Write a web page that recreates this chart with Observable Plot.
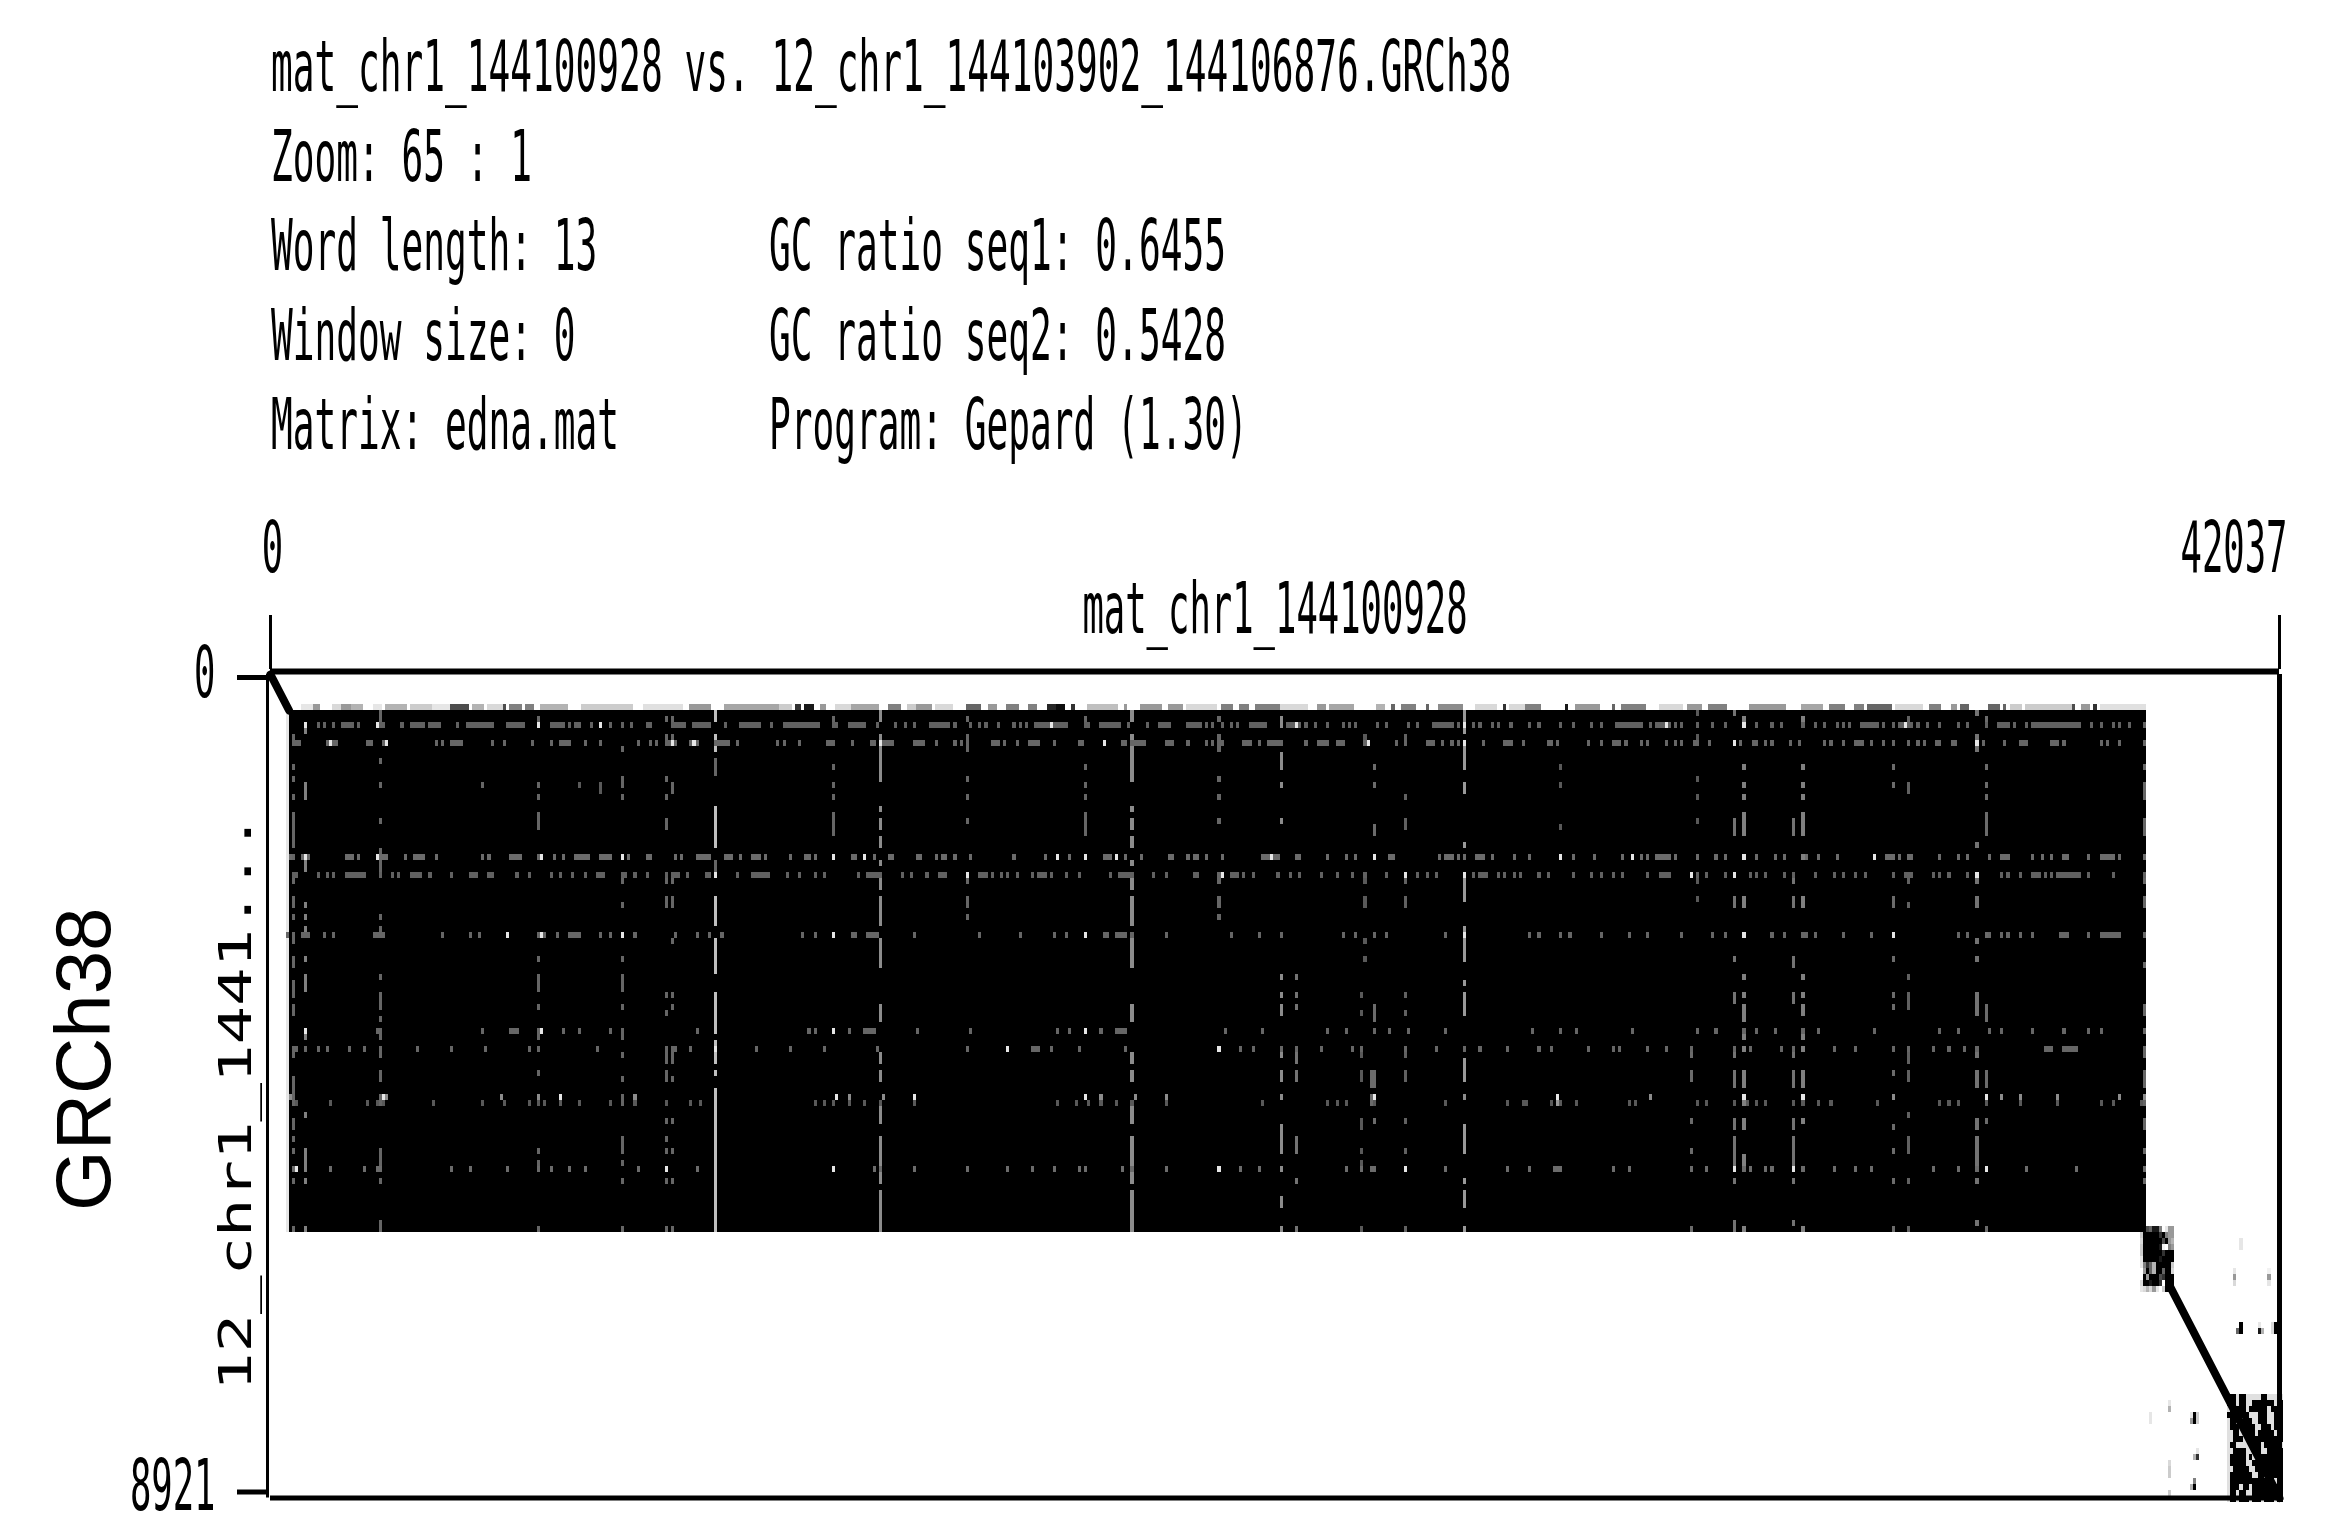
<!DOCTYPE html>
<html>
<head>
<meta charset="utf-8">
<title>Gepard dot plot</title>
<script src="https://cdn.jsdelivr.net/npm/d3@7"></script>
<script src="https://cdn.jsdelivr.net/npm/@observablehq/plot@0.6"></script>
<style>
html,body{margin:0;padding:0;background:#fff;width:2332px;height:1540px;overflow:hidden}
.h{position:absolute;font-family:"DejaVu Sans Mono",monospace;font-size:71px;line-height:1.164;color:#000;white-space:pre;transform:scaleX(.509);transform-origin:0 0}
#chart{position:absolute;left:0;top:500px}
#chart svg{display:block}
</style>
</head>
<body>
<div id="header"></div>
<div id="chart"></div>
<script>
// ---- texts ----
const headerLeft = ["mat_chr1_144100928 vs. 12_chr1_144103902_144106876.GRCh38","Zoom: 65 : 1","Word length: 13","Window size: 0","Matrix: edna.mat"];
const headerRight = ["","","GC ratio seq1: 0.6455","GC ratio seq2: 0.5428","Program: Gepard (1.30)"];
const seq1Name = "mat_chr1_144100928";
const seq2Name = "12_chr1_1441...";
const refName = "GRCh38";
// ---- sequence lengths and matrix bin (bp per dot, the 65:1 zoom) ----
const seq1Length = 42037, seq2Length = 8921, binSize = 65;
const xTicks = [0, seq1Length], yTicks = [0, seq2Length];
// ---- big repeat block, in bins [col1,col2,row1,row2] ----
const block = [6, 604, 6, 93];
// ---- the two identity diagonals, in bp ----
const diagonalA = [[0,0],[390,390]];
const diagonalB = [[39748,6630],[42037,8921]];
// ---- grey top row above the block [col1,col2,ink] ----
const topRow = [[10,13,.1],[14,15,.4],[20,22,.15],[23,25,.4],[26,29,.3],[33,35,.1],[37,43,.3],[45,51,.2],[52,57,.1],[58,63,.7],[65,68,.3],[70,74,.15],[75,75,.7],[77,80,.5],[82,84,.5],[87,95,.3],[100,116,.2],[120,132,.12],[135,141,.4],[146,163,.35],
[164,167,.2],[169,170,.8],[172,174,.9],[177,178,.4],[182,186,.15],[187,195,.35],[199,202,.5],[205,207,.2],[208,212,.4],[214,219,.15],[224,228,.6],[231,233,.4],[237,240,.5],[244,246,.5],[250,252,.85],[253,255,.95],[258,258,.8],[263,272,.25],[275,275,.4],[280,286,.4],[289,293,.4],[295,304,.15],[306,309,.5],[312,314,.5],[317,324,.5],
[325,333,.15],[337,339,.4],[341,348,.35],[356,358,.3],[361,361,.6],[364,368,.5],[372,372,.6],[376,383,.45],[388,394,.15],[397,397,.8],[399,403,.15],[404,408,.5],[417,417,.9],[420,427,.4],[432,432,.6],[435,442,.5],[447,454,.15],[456,460,.4],[463,468,.5],[476,486,.4],
[487,487,.4],[493,499,.35],[502,506,.5],[510,512,.5],[514,521,.6],[523,531,.15],[534,537,.5],[541,542,.4],[544,546,.6],[553,556,.6],[558,558,.6],[560,563,.2],[565,579,.2],[580,580,.7],[583,585,.4],[587,587,.8],[589,603,.12]];
// ---- light specks inside the block: row -> columns (a number or a [from,to] run) ----
const row8 = [11,15,17,20,[23,26],28,[34,36],42,[45,49],[51,54],60,[63,71],[76,81],86,[90,94],96,98,99,103,106,109,113,116,121,122,[129,133],[136,141],146,[151,157],161,[165,176],[181,182],[186,191],195,201,204,207,[212,218],220,225,228,230,234,239,241,243,[246,256],[262,263],[267,273],276,282,[286,289],[295,299],301,303,306,309,311,[315,320],[327,331],333,336,340,345,347,349,356,359,366,369,[374,380],382,384,387,389,393,395,399,405,408,415,419,425,428,[433,440],441,444,[446,450],452,454,459,464,468,474,478,483,486,493,497,500,504,506,508,[512,517],519,522,[524,528],530,533,537,543,546,552,[556,559],561,565,[567,572],[573,582],586,589,593,595,598,603];
const row11 = [[8,9],[18,21],31,32,[36,37],53,55,[58,61],71,75,84,90,[93,96],101,106,118,122,124,[127,130],[135,137],[143,147],150,163,165,170,[179,181],187,[193,194],[196,200],[207,210],214,220,222,224,[232,234],236,240,[244,247],252,[260,261],268,[274,275],[277,281],[288,290],295,301,303,306,[313,315],318,[321,325],333,[337,340],[343,345],[352,353],362,365,[372,374],377,380,382,384,390,[397,399],403,[411,412],414,424,428,[432,434],436,441,443,449,452,454,[458,459],463,471,473,[477,478],481,483,489,492,500,502,506,[510,512],515,519,522,527,530,532,[536,537],[541,542],549,551,558,[563,565],[573,575],577,589,591,595,603];
const row30 = [6,[10,12],[24,26],28,[34,37],43,[46,49],53,68,70,[77,80],87,91,94,[98,102],[106,109],113,115,121,122,130,132,[137,141],[146,148],151,[155,157],159,167,[172,173],175,181,[187,188],191,194,[199,200],[208,209],214,[216,217],220,225,239,249,253,257,262,[268,270],272,275,280,[289,290],295,[297,298],301,306,[319,324],[330,331],340,346,349,355,[360,361],376,[378,380],382,384,[388,390],393,400,405,415,419,426,435,438,441,443,[446,450],452,459,465,468,474,478,484,487,494,498,504,516,[520,522],524,[527,528],537,543,546,553,[557,559],567,570,573,[577,578],585,[589,593],595,603];
const row33 = [[7,8],15,18,20,[24,30],35,39,41,[45,48],51,58,[64,66],[70,71],79,83,90,93,97,101,[105,107],[113,114],117,121,127,[129,131],134,[140,141],143,150,[155,160],166,170,175,178,189,[192,196],203,206,211,[215,217],224,[228,230],232,235,237,240,245,[247,249],251,256,260,270,[273,277],284,288,[297,298],306,[309,311],313,316,324,328,331,338,343,348,352,359,365,369,372,375,384,387,[389,391],395,397,400,402,408,411,419,425,428,432,435,443,[447,450],457,459,462,468,471,476,478,481,487,490,497,503,506,510,513,522,[526,528],535,537,540,546,549,557,559,563,[567,569],571,573,[575,582],585,593,603];
const row43 = [5,7,[10,12],17,20,[33,36],55,64,67,76,[87,88],92,[96,99],106,109,113,117,130,137,141,145,171,175,181,187,188,[192,194],195,207,228,241,252,256,262,268,269,[272,275],277,288,309,318,325,345,349,355,359,378,384,405,408,415,418,428,437,443,454,464,468,474,483,487,[493,494],497,506,515,522,543,546,553,557,559,563,567,[576,578],585,[589,595],603];
const row59 = [11,[34,35],68,[77,79],87,94,99,109,113,137,173,175,181,186,[191,194],208,225,253,257,262,267,[272,275],307,319,340,346,355,360,366,378,406,415,420,438,459,465,474,478,484,493,498,516,537,543,553,557,567,577,585,589,603];
const row62 = [8,11,15,18,25,30,35,47,58,69,83,105,127,130,135,143,156,167,178,195,224,237,[245,247],251,260,275,305,312,316,325,330,338,348,351,365,375,384,389,398,408,412,424,432,434,443,449,457,471,476,486,490,503,510,522,527,535,540,545,549,[571,573],[577,581],603];
const row70 = [6,[36,37],74,86,93,117,182,186,197,207,262,267,278,288,325,355,384,414,444,474,493,522,552,557,563,575,595,603];
const row71 = [8,19,31,34,36,52,68,75,83,86,88,93,99,109,117,127,135,138,175,178,181,186,191,196,207,253,259,263,267,272,277,288,319,340,343,346,355,378,398,403,404,412,415,420,437,439,459,462,471,475,478,481,490,493,498,502,517,537,540,543,552,563,575,589,593,602];
const row82 = [[7,8],19,30,34,35,58,64,76,86,90,96,101,118,127,137,181,194,196,207,224,237,245,252,260,262,274,277,288,305,312,318,346,351,354,365,378,398,405,[413,415],432,437,457,462,471,474,476,481,483,490,493,503,510,515,535,543,549,552,565,581,603];
const rowList = [[8,row8,.38],[11,row11,.4],[30,row30,.42],[33,row33,.38],[43,row43,.4],[59,row59,.4],[62,row62,.4],[70,row70,.55],[71,row71,.35],[82,row82,.42]];
// ---- brighter specks [row,col] ----
const bright = [[8,11],[8,34],[8,86],[8,106],[8,251],[8,330],[8,384],[8,449],[8,474],[8,526],[11,37],[11,19],[11,129],[11,136],[11,196],[11,268],[11,353],[11,384],[11,471],[11,549],[30,11],[30,34],[30,87],[30,113],[30,181],[30,191],[30,253],[30,262],[30,272],[30,355],[30,415],[30,438],[30,322],[30,474],[30,516],[33,143],[33,224],[33,306],[33,365],[33,384],[33,457],[33,471],[33,549],[43,76],[43,87],[43,113],[43,181],[43,262],[43,384],[43,474],[43,522],[59,11],[59,87],[59,181],[59,262],[62,143],[62,237],[62,305],[70,36],[70,93],[70,182],[70,207],[70,262],[70,355],[70,414],[70,474],[70,493],[70,552],[82,8],[82,127],[82,181],[82,305],[82,365],[82,471],[82,490],[82,552]];
// ---- columns of gaps through the block: [col, lightness, [row | [from,to], ...]] ----
const colGaps = [
[143,.75,[[6,7],[10,12],[22,28],[33,33],[37,41],[44,49],[53,59],[61,64],[66,66],[69,92]]],
[143,.4,[[14,16],[31,32]]],
[196,.55,[[6,7],[10,16],17,22,[24,25],[27,28],31,[33,35],[37,41],[44,48],[55,57],[63,64],66,67,71,[72,74],[77,79],[79,84],[86,92]]],
[277,.55,[[6,7],[10,16],17,22,[24,25],[27,28],31,[33,35],[37,41],[44,48],[55,57],[63,64],66,67,71,[72,74],[77,79],[79,84],[86,92]]],
[224,.4,[7,[10,12],17,20,24,[33,34],[37,38],40]],
[305,.4,[7,[10,12],17,20,24,[33,34],[37,38],40]],
[181,.4,[7,15,18,20,[23,26],30,43]],
[262,.4,[7,15,18,20,[23,26],30,43]],
[384,.6,[[6,9],[11,14],15,18,19,28,[33,37],43,[42,47],51,[53,56],[64,67],70,[75,79],84,[86,88],92]],
[325,.55,[[7,8],[13,15],18,24,50,53,[55,56],[62,63],[66,67],70,[75,79],82,[87,88],92]],
[330,.45,[50,53,55,[62,64],[66,67],[77,79],84,92]],
[474,.5,[7,15,18,20,[23,26],30,[37,38],43,50,53,[55,57],[59,60],62,[66,68],[70,71],[74,75],[80,82],92]],
[493,.5,[7,15,18,20,[23,26],30,[37,38],43,50,53,[55,56],[59,60],62,[66,68],[70,71],74,82,92]],
[471,.45,[6,[24,26],[37,38],47,[53,54],[62,63],[66,68],[74,75],[77,79],[80,82],84,[91,92]]],
[490,.45,[[24,26],[33,34],[37,38],[47,48],[53,54],[62,63],[66,68],[74,75],[77,79],[80,82],84,91]],
[549,.45,[6,[10,12],28,[33,34],[37,38],44,47,[53,56],[62,63],[66,68],[74,75],[77,79],[80,82],84,91]],
[552,.42,[7,15,18,20,[23,26],43,[55,57],[66,68],[70,71],74,82,92]],
[522,.42,[15,18,37,38,43,47,53,55,62,66,70,75,79,84,92]],
[527,.38,[7,[18,19],34,38,50,[53,55],[62,64],[66,67],73,[77,79],84,92]],
[355,.42,[15,18,[25,26],[55,57],[66,68],[70,71],74,82]],
[354,.42,[[66,68],[70,71]]],
[365,.38,[[10,11],20,[24,25],[33,34],[37,38],53,56,[62,63],[66,67],74,79,82,92]],
[351,.35,[53,56,[62,63],[66,67],[74,75],79,[81,82],92]],
[352,.35,[[10,11],[33,34],[37,38],44,47]],
[415,.35,[15,18,25]],
[414,.6,[[70,71]]],
[459,.35,[6,10,17,20,24,[33,34],37]],
[457,.42,[[62,63],[66,67],74,79,82,92]],
[35,.4,[[6,7],14,18,24,[29,30],[31,33],40,[42,43],50,[53,55],57,[59,60],[62,63],[66,67],[70,71],[79,81],82,84,[91,92]]],
[86,.4,[7,18,20,[23,25],30,43,47,[50,52],55,[59,60],62,66,[70,71],79,[81,82],92]],
[113,.4,[12,[17,18],20,30,34,38,47,[50,52],55,[59,60],63,67,[70,71],[77,79],81,84,92]],
[127,.4,[7,[10,11],17,20,[24,25],[33,34],[37,38],53,56,[62,64],[66,67],74,77,79,82,84,92]],
[129,.4,[7,[10,11],[18,19],[33,34],[37,38],44,53,55,[62,64],67,74,79,84,92]],
[7,.4,[[10,11],15,17,20,[23,27],28,30,[33,34],[37,38],40,44,[47,48],[51,53],55,56,[62,63],[67,71],[74,75],77,79,82,84,92]],
[11,.5,[[8,9],[18,20],30,[31,32],38,40,[42,43],47,[50,52],[59,60],62,73,[79,81],82,84,92]],
[68,.4,[18]],[99,.35,[18]],[106,.35,[18,19]],
[603,.4,[8,11,15,[18,20],[24,26],30,33,34,37,38,43,48,[55,56],59,[62,63],[66,68],[70,71],[74,75],79,82,84]],
[5,.9,[[6,92]]]
];
// ---- the dense patch at the end of the block: [row,[col,ink],...] ----
const patch = [
[92,[604,.7],[605,.6],[606,.9],[607,.9],[608,.5],[610,.1],[611,.4],[612,.4]],
[93,[602,.2],[603,1],[604,1],[605,1],[606,1],[607,1],[608,.8],[609,1],[610,.5],[611,.4],[612,.4]],
[94,[602,.15],[603,1],[604,1],[605,1],[606,1],[607,1],[608,1],[609,.7],[610,1],[611,.4],[612,.3]],
[95,[602,.2],[603,1],[604,1],[605,1],[606,1],[607,1],[608,.9],[609,.05],[611,.5],[612,.4]],
[96,[602,.2],[603,1],[604,1],[605,1],[606,1],[607,1],[608,1],[609,.8],[610,1],[611,1],[612,1]],
[97,[602,.1],[603,1],[604,1],[605,1],[606,1],[607,1],[608,.9],[609,1],[610,1],[611,1],[612,1]],
[98,[602,.1],[603,.5],[604,.8],[605,.6],[606,.3],[607,1],[608,1],[609,1],[610,1],[611,1],[612,.2]],
[99,[603,.4],[604,1],[605,.6],[606,.3],[607,1],[608,1],[609,.6],[610,1],[611,1],[612,.15]],
[100,[603,1],[604,.4],[605,1],[606,1],[607,1],[608,.7],[609,.8],[610,1],[611,1],[612,1]],
[101,[602,.15],[603,1],[604,1],[605,.9],[606,1],[607,1],[608,.8],[610,1],[611,1],[612,1]],
[102,[602,.1],[603,.15],[604,.3],[605,.15],[606,.4],[607,.1],[609,.2],[610,1],[611,1],[612,1]]
];
// ---- isolated dots off the diagonal [row,col,ink] ----
const strayDots = [[94,634,.1],[95,634,.1],[99,632,.1],[100,632,.4],[101,632,.15],[100,643,.4],[101,643,.1],[99,643,.05],[100,646,.2],[101,646,.1],
[108,634,1],[109,634,1],[109,633,.6],[109,640,.9],[108,640,.1],[109,641,.3],[108,645,1],[109,645,1],[108,644,.15],[109,644,.15],
[121,611,.1],[122,611,.3],[123,605,.1],[124,605,.1],[123,619,1],[124,619,1],[123,618,.1],[124,618,.4],[123,620,.2],[124,620,.2],
[129,620,.1],[130,620,.8],[130,619,.3],[131,611,.15],[132,611,.2],[133,611,.2],[134,619,.5],[135,619,1],[135,618,.3],[136,611,.2]];
// ---- crosshatched corner: row -> [col1,col2] runs ----
const hatch = [
[120,[631,632],[634,635],[641,642]],
[121,[630,632],[634,635],[638,640],[641,644],[646,647]],
[122,[631,635],[637,642],[644,645],[646,647]],
[123,[630,633],[634,636],[640,642],[645,647]],
[124,[631,632],[635,637],[640,642],[645,647]],
[125,[631,633],[635,638],[641,643],[645,647]],
[126,[632,633],[635,638],[640,642],[643,644],[646,647]],
[127,[632,634],[636,642],[643,645],[646,647]],
[128,[631,632],[638,640],[642,643],[644,646]],
[129,[632,635],[639,640],[643,644],[645,647]],
[130,[631,635],[637,637],[640,642],[643,647]],
[131,[631,635],[638,639],[640,643],[644,647]],
[132,[632,636],[639,640],[641,644],[645,647]],
[133,[631,634],[635,637],[640,641],[643,647]],
[134,[631,637],[638,640],[641,644],[646,647]],
[135,[631,633],[635,636],[638,640],[641,644],[645,647]],
[136,[631,632],[634,635],[638,640],[641,644],[646,647]],
[137,[631,632],[634,636],[638,640],[642,644],[646,647]]
];

// ---- tables built from the arrays above: bins -> base pairs ----
const cell = (c1, c2, r1, r2, l) => ({x1: c1*binSize, x2: (c2+1)*binSize, y1: r1*binSize, y2: (r2+1)*binSize, l});
const span = v => Array.isArray(v) ? v : [v, v];
const cells = [];
cells.push(cell(block[0], block[1]-1, block[2], block[3]-1, 0));
for (const [c1,c2,ink] of topRow) cells.push(cell(c1,c2,5,5,1-ink));
for (const [col,l,rows] of colGaps) for (const v of rows) { const [a,b] = span(v); cells.push(cell(col,col,a,b,l)); }
for (const [row,list,l] of rowList) for (const v of list) { const [a,b] = span(v); cells.push(cell(a,b,row,row,l)); }
for (const [row,col] of bright) cells.push(cell(col,col,row,row,.9));
for (const [row,...pairs] of patch) for (const [col,ink] of pairs) cells.push(cell(col,col,row,row,1-ink));
for (const [row,col,ink] of strayDots) cells.push(cell(col,col,row,row,1-ink));
for (const [row,...runs] of hatch) {
  cells.push(cell(630,647,row,row,.88));
  for (const [a,b] of runs) cells.push(cell(a,b,row,row,0));
}

// ---- header lines above the SVG ----
const header = document.getElementById("header");
const baseTop = 26, lineStep = 89.5, rightLeft = 769;
headerLeft.forEach((t,i)=>{ const d=document.createElement("div"); d.className="h"; d.textContent=t; d.style.left="271px"; d.style.top=(baseTop+i*lineStep)+"px"; header.appendChild(d); });
headerRight.forEach((t,i)=>{ if(!t) return; const d=document.createElement("div"); d.className="h"; d.textContent=t; d.style.left=rightLeft+"px"; d.style.top=(baseTop+i*lineStep)+"px"; header.appendChild(d); });

const mono = {fontFamily:"DejaVu Sans Mono", fontSize:71, className:"narrow", lineAnchor:"bottom"};
const plot = Plot.plot({
  width:2332, height:1040,
  marginTop:174, marginBottom:42.5, marginLeft:270, marginRight:53,
  style:{background:"#fff"},
  x:{domain:[0,seq1Length], axis:null},
  y:{domain:[0,seq2Length], range:[174,997.5], axis:null},
  color:{type:"linear", domain:[0,1], range:["#000","#fff"], interpolate:"rgb"},
  marks:[
    Plot.rect(cells,{x1:"x1",x2:"x2",y1:"y1",y2:"y2",fill:"l",shapeRendering:"crispEdges",inset:0}),
    Plot.line(diagonalA,{x:d=>d[0],y:d=>d[1],stroke:"#000",strokeWidth:8}),
    Plot.line(diagonalB,{x:d=>d[0],y:d=>d[1],stroke:"#000",strokeWidth:8}),
    // frame
    Plot.ruleY([0],{dy:-3,strokeWidth:6,stroke:"#000"}),
    Plot.ruleY([seq2Length],{strokeWidth:5,stroke:"#000"}),
    Plot.ruleX([seq1Length],{strokeWidth:5,stroke:"#000"}),
    Plot.ruleX([0],{dx:-3,strokeWidth:3,stroke:"#000"}),
    // ticks (labels are separate marks below)
    Plot.axisX({anchor:"top",ticks:xTicks,tickSize:54,fill:"none",dy:-6,strokeWidth:3,stroke:"#000",label:null}),
    Plot.axisY({anchor:"left",ticks:[yTicks[0]],tickSize:30,fill:"none",dx:-3,dy:3,strokeWidth:5,stroke:"#000",label:null}),
    Plot.axisY({anchor:"left",ticks:[yTicks[1]],tickSize:30,fill:"none",dx:-3,dy:-6,strokeWidth:5,stroke:"#000",label:null}),
    // tick labels
    Plot.text([xTicks[0]],{...mono,x:d=>d,frameAnchor:"top",dy:-103,dx:2,text:d=>String(d),textAnchor:"middle"}),
    Plot.text([xTicks[1]],{...mono,x:d=>d,frameAnchor:"top",dy:-103,dx:8,text:d=>String(d),textAnchor:"end"}),
    Plot.text([yTicks[0]],{...mono,y:d=>d,frameAnchor:"left",dx:-55,dy:22,text:d=>String(d),textAnchor:"end"}),
    Plot.text([yTicks[1]],{...mono,y:d=>d,frameAnchor:"left",dx:-55,dy:11.5,text:d=>String(d),textAnchor:"end"}),
    // axis names
    Plot.text([seq1Name],{...mono,x:seq1Length/2,frameAnchor:"top",dy:-42,text:d=>d,textAnchor:"middle"}),
    Plot.text([seq2Name],{y:seq2Length/2,frameAnchor:"left",textAnchor:"middle",dx:-20,dy:16,rotate:-90,text:d=>d,fontFamily:"DejaVu Sans Mono",fontSize:44,lineAnchor:"bottom",className:"wide"}),
    Plot.text([refName],{y:seq2Length/2,frameAnchor:"left",textAnchor:"middle",dx:-161,dy:-27,rotate:-90,text:d=>d,fontFamily:"Liberation Sans",fontSize:78,lineAnchor:"bottom"})
  ]
});
document.getElementById("chart").appendChild(plot);
// squeeze the bitmap-like labels to the reference's character width
plot.querySelectorAll(".narrow text").forEach(t=>{ t.setAttribute("lengthAdjust","spacingAndGlyphs"); t.setAttribute("textLength", t.textContent.length*21.4); });
plot.querySelectorAll(".wide text").forEach(t=>{ t.setAttribute("lengthAdjust","spacingAndGlyphs"); t.setAttribute("textLength", t.textContent.length*38.5); });
</script>
</body>
</html>
